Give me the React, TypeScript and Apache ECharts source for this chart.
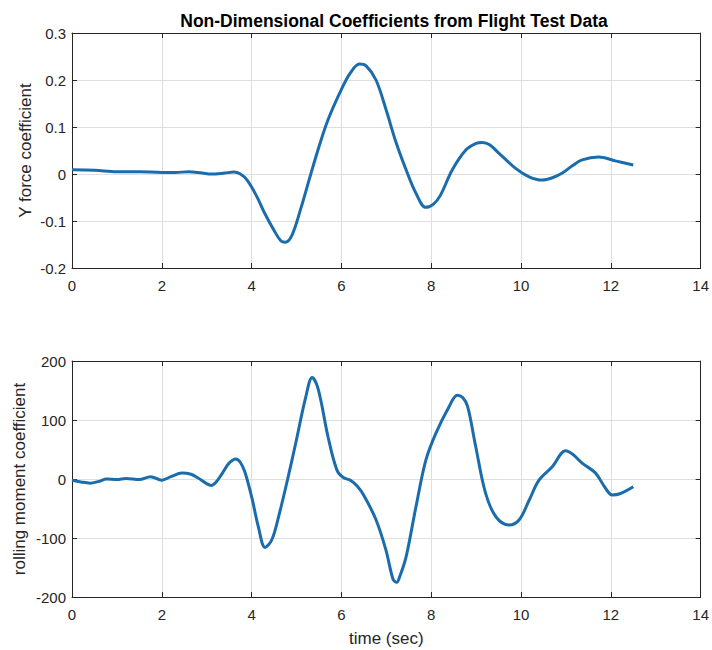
import React, { useEffect, useRef } from "react";
import * as echarts from "echarts";

// Lateral force coefficient vs time
const timeY = [0, 0.5, 1.0, 1.5, 2.0, 2.3, 2.6, 2.9, 3.1, 3.4, 3.6, 3.75, 3.9, 4.1, 4.3, 4.5, 4.65, 4.75, 4.9, 5.1, 5.3, 5.5, 5.7, 6.0, 6.2, 6.4, 6.55, 6.77, 7.0, 7.2, 7.44, 7.66, 7.88, 8.05, 8.2, 8.47, 8.77, 9.0, 9.14, 9.3, 9.51, 9.88, 10.18, 10.47, 10.7, 10.92, 11.15, 11.36, 11.73, 12.1, 12.5];
const yForce = [0.009, 0.008, 0.005, 0.005, 0.003, 0.003, 0.005, 0.002, 0.0, 0.002, 0.004, 0.0, -0.013, -0.045, -0.085, -0.12, -0.142, -0.145, -0.13, -0.072, -0.006, 0.058, 0.115, 0.18, 0.215, 0.234, 0.23, 0.2, 0.135, 0.072, 0.009, -0.041, -0.071, -0.064, -0.046, 0.009, 0.051, 0.065, 0.067, 0.062, 0.044, 0.012, -0.006, -0.013, -0.008, 0.002, 0.018, 0.03, 0.036, 0.028, 0.019];

// Rolling moment coefficient vs time
const timeL = [0, 0.2, 0.4, 0.6, 0.77, 1.0, 1.2, 1.5, 1.75, 2.0, 2.2, 2.45, 2.65, 2.8, 3.0, 3.1, 3.2, 3.35, 3.5, 3.65, 3.75, 3.85, 4.0, 4.15, 4.3, 4.45, 4.6, 4.8, 5.0, 5.2, 5.35, 5.45, 5.55, 5.7, 5.9, 6.05, 6.2, 6.35, 6.5, 6.77, 6.99, 7.15, 7.23, 7.3, 7.44, 7.66, 7.88, 8.1, 8.4, 8.58, 8.7, 8.81, 8.99, 9.21, 9.44, 9.73, 9.96, 10.18, 10.4, 10.7, 10.99, 11.15, 11.36, 11.66, 11.85, 12.03, 12.2, 12.5];
const rolling = [-2, -5, -7, -4, 0, -1, 1, -1, 4, -2, 4, 10, 8, 2, -8, -11, -6, 10, 27, 34, 28, 12, -30, -81, -116, -103, -64, -1, 67, 137, 172, 160, 130, 72, 15, 2, -2, -12, -28, -69, -120, -170, -175, -165, -132, -47, 32, 77, 123, 142, 138, 123, 55, -24, -64, -78, -69, -36, -2, 21, 48, 42, 27, 10, -12, -27, -25, -13];

const xTicks = { min: 0, max: 14, interval: 2 };
const yForceTicks = { min: -0.2, max: 0.3, interval: 0.1 };
const rollingTicks = { min: -200, max: 200, interval: 100 };

const FONT = "'Liberation Sans', Arial, sans-serif";
const INK = "#262626";
const LINE = "#1a6cab";

const pairs = (xs: number[], ys: number[]) => xs.map((x, i) => [x, ys[i]]);

export default function App() {
  const ref = useRef<HTMLDivElement>(null);

  useEffect(() => {
    if (!ref.current) return;
    const chart = echarts.init(ref.current, undefined, { renderer: "svg" });

    const boxLine = { show: true, onZero: false, lineStyle: { color: INK, width: 1 } };
    const tick = { show: true, inside: true, length: 5, lineStyle: { color: INK } };
    const grid = { show: true, lineStyle: { color: "#dedede", width: 1 } };
    const label = { color: INK, fontSize: 15, fontFamily: FONT };
    const nameStyle = { color: INK, fontSize: 17, fontFamily: FONT };

    const xAxisPair = (gridIndex: number, name?: string) => [
      {
        type: "value",
        gridIndex,
        position: "bottom",
        ...xTicks,
        axisLine: boxLine,
        axisTick: tick,
        splitLine: grid,
        axisLabel: { ...label, margin: 10 },
        name,
        nameLocation: "middle",
        nameGap: 33,
        nameTextStyle: nameStyle,
      },
      {
        type: "value",
        gridIndex,
        position: "top",
        ...xTicks,
        axisLine: boxLine,
        axisTick: tick,
        splitLine: { show: false },
        axisLabel: { show: false },
      },
    ];

    const yAxisPair = (gridIndex: number, ticks: any, name: string, decimals: boolean, gap: number) => [
      {
        type: "value",
        gridIndex,
        position: "left",
        ...ticks,
        axisLine: boxLine,
        axisTick: tick,
        splitLine: grid,
        axisLabel: {
          ...label,
          margin: 6,
          formatter: (v: number) => (decimals ? (Math.abs(v) < 1e-9 ? "0" : v.toFixed(1)) : String(v)),
        },
        name,
        nameLocation: "middle",
        nameGap: gap,
        nameMoveOverlap: false,
        nameTextStyle: nameStyle,
      },
      {
        type: "value",
        gridIndex,
        position: "right",
        ...ticks,
        axisLine: boxLine,
        axisTick: tick,
        splitLine: { show: false },
        axisLabel: { show: false },
      },
    ];

    chart.setOption({
      animation: false,
      backgroundColor: "#ffffff",
      title: {
        text: "Non-Dimensional Coefficients from Flight Test Data",
        left: 389,
        top: 7,
        textAlign: "center",
        textStyle: { color: "#000", fontSize: 17.5, fontWeight: "bold", fontFamily: FONT },
      },
      grid: [
        { left: 72, right: 9, top: 33, height: 235 },
        { left: 72, right: 9, top: 361, height: 236 },
      ],
      xAxis: [...xAxisPair(0), ...xAxisPair(1, "time (sec)")],
      yAxis: [
        ...yAxisPair(0, yForceTicks, "Y force coefficient", true, 38),
        ...yAxisPair(1, rollingTicks, "rolling moment coefficient", false, 44),
      ],
      series: [
        {
          type: "line",
          xAxisIndex: 0,
          yAxisIndex: 0,
          data: pairs(timeY, yForce),
          smooth: 0.35,
          showSymbol: false,
          lineStyle: { color: LINE, width: 3 },
        },
        {
          type: "line",
          xAxisIndex: 2,
          yAxisIndex: 2,
          data: pairs(timeL, rolling),
          smooth: 0.35,
          showSymbol: false,
          lineStyle: { color: LINE, width: 3 },
        },
      ],
    });

    return () => chart.dispose();
  }, []);

  return <div ref={ref} style={{ width: 712, height: 650, position: "absolute", left: 0, top: 0 }} />;
}
